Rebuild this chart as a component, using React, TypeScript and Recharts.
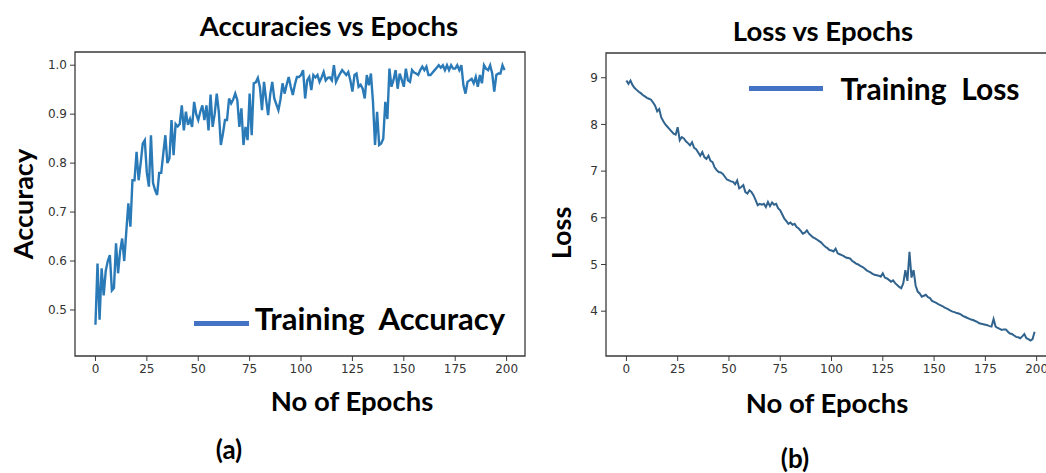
import { LineChart, Line, XAxis, YAxis, ReferenceArea } from "recharts";

// training accuracy per epoch (0..199)
const accuracy = [
  0.47, 0.595, 0.48, 0.585, 0.53, 0.58, 0.6, 0.612, 0.54, 0.545,
  0.636, 0.575, 0.62, 0.646, 0.6, 0.66, 0.718, 0.67, 0.765, 0.765,
  0.823, 0.765, 0.8, 0.84, 0.847, 0.78, 0.752, 0.857, 0.76, 0.745,
  0.735, 0.78, 0.78, 0.82, 0.857, 0.8, 0.81, 0.888, 0.816, 0.88,
  0.875, 0.88, 0.918, 0.867, 0.905, 0.878, 0.89, 0.874, 0.925, 0.9,
  0.888, 0.905, 0.918, 0.888, 0.918, 0.867, 0.94, 0.874, 0.9, 0.942,
  0.905, 0.837, 0.86, 0.888, 0.888, 0.932, 0.922, 0.93, 0.942, 0.929,
  0.874, 0.912, 0.837, 0.874, 0.847, 0.942, 0.857, 0.963, 0.965, 0.974,
  0.955, 0.908, 0.966, 0.93, 0.898, 0.94, 0.966, 0.932, 0.92, 0.908,
  0.93, 0.963, 0.942, 0.96, 0.976, 0.956, 0.939, 0.96, 0.976, 0.976,
  0.98, 0.99, 0.932, 0.969, 0.976, 0.949, 0.98, 0.975, 0.98, 0.966,
  0.975, 0.986, 0.969, 0.974, 0.975, 0.969, 1.0, 0.966, 0.975, 0.983,
  0.99, 0.985, 0.98, 0.986, 0.969, 0.946, 0.98, 0.983, 0.956, 0.96,
  0.952, 0.932, 0.98, 0.959, 0.983, 0.925, 0.837, 0.905, 0.837, 0.84,
  0.85, 0.925, 0.89, 0.993, 0.956, 0.97, 0.99, 0.952, 0.983, 0.97,
  0.956, 0.993, 0.969, 0.966, 0.99, 0.985, 0.983, 0.98, 0.99, 0.997,
  0.99, 0.997, 0.98, 0.98, 0.985, 0.99, 0.995, 1.0, 0.995, 1.0,
  0.99, 1.0, 0.99, 1.0, 0.993, 0.993, 1.0, 0.99, 1.0, 0.959,
  0.942, 0.966, 0.969, 0.972, 0.963, 0.976, 0.956, 0.98, 0.963, 1.0,
  0.993, 0.99, 1.0, 0.983, 0.946, 0.98, 0.983, 0.983, 1.0, 0.99,
];

// training loss per epoch (0..199)
const loss = [
  8.94, 8.87, 8.94, 8.84, 8.78, 8.74, 8.7, 8.67, 8.63, 8.6,
  8.57, 8.55, 8.53, 8.47, 8.4, 8.28, 8.33, 8.15, 8.07, 8.0,
  7.95, 7.9, 7.85, 7.8, 7.78, 7.94, 7.66, 7.73, 7.7, 7.64,
  7.6, 7.55, 7.62, 7.5, 7.47, 7.4, 7.33, 7.41, 7.3, 7.26,
  7.33, 7.22, 7.19, 7.08, 7.02, 6.98, 6.97, 6.94, 6.88, 6.82,
  6.8, 6.78, 6.77, 6.72, 6.8, 6.63, 6.66, 6.7, 6.55, 6.52,
  6.59, 6.55, 6.48, 6.38, 6.27, 6.3, 6.28, 6.3, 6.23, 6.34,
  6.25, 6.33, 6.28, 6.3, 6.2, 6.16, 6.07, 5.98, 5.93, 5.87,
  5.9, 5.85, 5.87, 5.8, 5.77, 5.72, 5.66, 5.68, 5.73, 5.66,
  5.62, 5.58, 5.56, 5.53, 5.5, 5.47, 5.42, 5.38, 5.35, 5.31,
  5.3, 5.28, 5.34, 5.24, 5.22, 5.2, 5.18, 5.15, 5.14, 5.13,
  5.08, 5.05, 5.02, 5.0, 4.97, 4.95, 4.92, 4.88, 4.85, 4.83,
  4.8, 4.78, 4.77, 4.76, 4.74, 4.81, 4.72, 4.7, 4.67, 4.63,
  4.66, 4.6, 4.56, 4.52, 4.49, 4.6, 4.88, 4.65, 5.27, 4.72,
  4.88, 4.55, 4.42, 4.38, 4.31, 4.33, 4.35, 4.3, 4.28, 4.22,
  4.2, 4.18, 4.15, 4.13, 4.11, 4.08, 4.06, 4.04, 4.01, 3.99,
  3.98, 3.96, 3.95, 3.93, 3.9, 3.88, 3.86, 3.84, 3.82, 3.81,
  3.79, 3.77, 3.74, 3.73, 3.72, 3.71, 3.7, 3.68, 3.67, 3.83,
  3.67, 3.64, 3.62, 3.6, 3.61, 3.61, 3.56, 3.52, 3.51, 3.48,
  3.45, 3.44, 3.42, 3.46, 3.51, 3.42, 3.4, 3.37, 3.4, 3.56,
];

const epochTicks = [0, 25, 50, 75, 100, 125, 150, 175, 200];
const accuracyTicks = [0.5, 0.6, 0.7, 0.8, 0.9, 1.0];
const lossTicks = [4, 5, 6, 7, 8, 9];

const epochDomain: [number, number] = [-9.95, 208.95];
const accuracyDomain: [number, number] = [0.406, 1.027];
const lossDomain: [number, number] = [3.04, 9.53];

const accData = accuracy.map((acc, epoch) => ({ epoch, acc }));
const lossData = loss.map((value, epoch) => ({ epoch, loss: value }));

const tickStyle = { fill: "#333", fontSize: 12, fontFamily: "DejaVu Sans" };
const frameColor = "#3a3a3a";

function Text({
  x,
  y,
  size,
  rotate,
  children,
}: {
  x: number;
  y: number;
  size: number;
  rotate?: boolean;
  children: string;
}) {
  return (
    <div
      style={{
        position: "absolute",
        left: x,
        top: y,
        transform: `translate(-50%, -50%)${rotate ? " rotate(-90deg)" : ""}`,
        fontFamily: "Lato",
        fontWeight: 700,
        fontSize: size,
        lineHeight: 1,
        whiteSpace: "pre",
        color: "#000",
      }}
    >
      {children}
    </div>
  );
}

function Swatch({ x, y, w }: { x: number; y: number; w: number }) {
  return (
    <div
      style={{
        position: "absolute",
        left: x,
        top: y - 2.5,
        width: w,
        height: 5,
        background: "#4472C4",
      }}
    />
  );
}

export default function App() {
  return (
    <div
      style={{
        position: "absolute",
        left: 0,
        top: 0,
        width: 1046,
        height: 473,
        overflow: "hidden",
        background: "#fff",
      }}
    >
      <div style={{ position: "absolute", left: 0, top: 0 }}>
        <LineChart
          width={540}
          height={473}
          data={accData}
          margin={{ top: 52, right: 15, bottom: 87, left: 20 }}
        >
          <XAxis
            dataKey="epoch"
            type="number"
            domain={epochDomain}
            ticks={epochTicks}
            allowDataOverflow
            axisLine={false}
            tickLine={{ stroke: frameColor }}
            tickSize={5}
            tickMargin={3}
            height={30}
            tick={tickStyle}
          />
          <YAxis
            type="number"
            domain={accuracyDomain}
            ticks={accuracyTicks}
            allowDataOverflow
            axisLine={false}
            tickLine={{ stroke: frameColor }}
            tickSize={5}
            tickMargin={3}
            width={55}
            tick={tickStyle}
            tickFormatter={(v: number) => v.toFixed(1)}
          />
          <ReferenceArea
            x1={epochDomain[0]}
            x2={epochDomain[1]}
            y1={accuracyDomain[0]}
            y2={accuracyDomain[1]}
            fill="none"
            stroke={frameColor}
            strokeWidth={1.3}
          />
          <Line
            type="linear"
            dataKey="acc"
            stroke="#2a7ab8"
            strokeWidth={2.4}
            dot={false}
            isAnimationActive={false}
          />
        </LineChart>
      </div>

      <div style={{ position: "absolute", left: 540, top: 0 }}>
        <LineChart
          width={530}
          height={473}
          data={lossData}
          margin={{ top: 53, right: 15, bottom: 87, left: 16 }}
        >
          <XAxis
            dataKey="epoch"
            type="number"
            domain={epochDomain}
            ticks={epochTicks}
            allowDataOverflow
            axisLine={false}
            tickLine={{ stroke: frameColor }}
            tickSize={5}
            tickMargin={3}
            height={30}
            tick={tickStyle}
          />
          <YAxis
            type="number"
            domain={lossDomain}
            ticks={lossTicks}
            allowDataOverflow
            axisLine={false}
            tickLine={{ stroke: frameColor }}
            tickSize={5}
            tickMargin={3}
            width={50}
            tick={tickStyle}
          />
          <ReferenceArea
            x1={epochDomain[0]}
            x2={epochDomain[1]}
            y1={lossDomain[0]}
            y2={lossDomain[1]}
            fill="none"
            stroke={frameColor}
            strokeWidth={1.3}
          />
          <Line
            type="linear"
            dataKey="loss"
            stroke="#30638d"
            strokeWidth={2}
            dot={false}
            isAnimationActive={false}
          />
        </LineChart>
      </div>

      <Text x={329} y={26} size={27.5}>Accuracies vs Epochs</Text>
      <Text x={22} y={204} size={27} rotate>Accuracy</Text>
      <Text x={352} y={401} size={27.5}>No of Epochs</Text>
      <Text x={229} y={449} size={26}>(a)</Text>
      <Swatch x={194} y={323} w={55} />
      <Text x={380} y={318} size={31}>Training  Accuracy</Text>

      <Text x={823} y={31} size={27.5}>Loss vs Epochs</Text>
      <Text x={560} y={233} size={27} rotate>Loss</Text>
      <Text x={827} y={403} size={27.5}>No of Epochs</Text>
      <Text x={795} y={458} size={26}>(b)</Text>
      <Swatch x={749} y={88} w={74} />
      <Text x={930} y={88} size={30}>Training  Loss</Text>
    </div>
  );
}
